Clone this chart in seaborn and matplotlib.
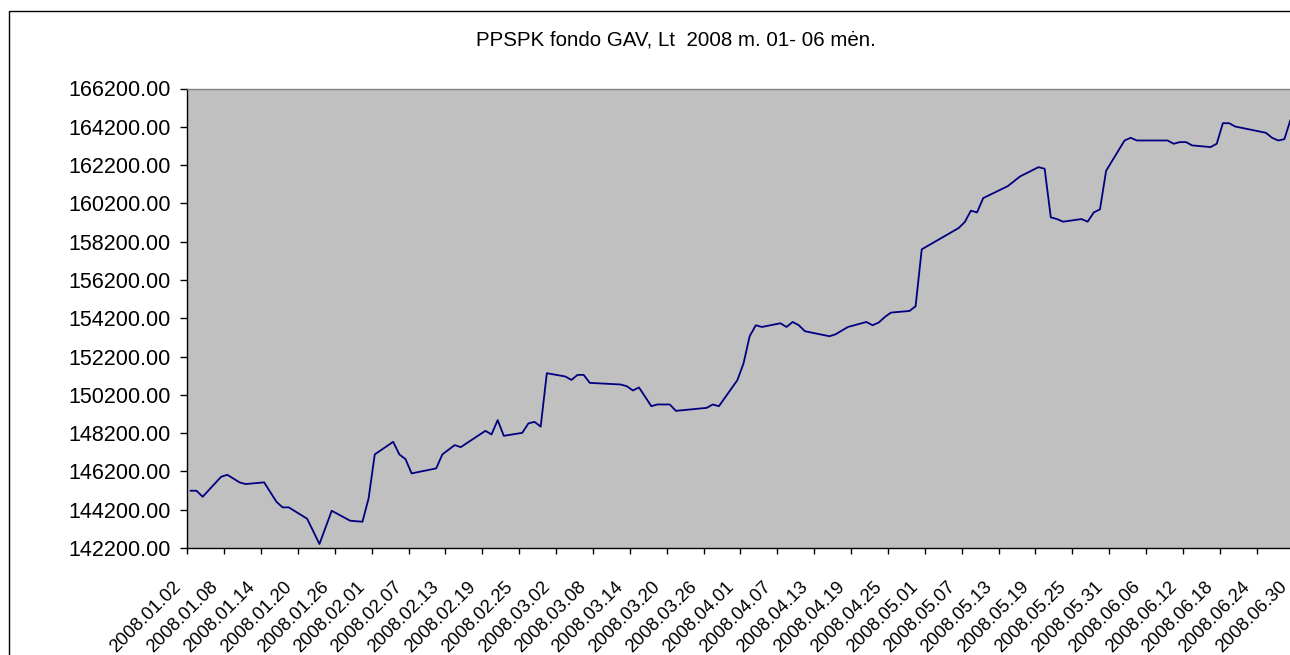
#!/usr/bin/env python3
import numpy as np
import pandas as pd
import seaborn as sns
from matplotlib import pyplot as plt
from matplotlib.patches import Rectangle
from matplotlib.transforms import ScaledTranslation

TITLE = "PPSPK fondo GAV, Lt  2008 m. 01- 06 m\u0117n."

# values (Lt)
dates = [
    "2008-01-02", "2008-01-03", "2008-01-04", "2008-01-07", "2008-01-08",
    "2008-01-10", "2008-01-11", "2008-01-14", "2008-01-16", "2008-01-17",
    "2008-01-18", "2008-01-21", "2008-01-23", "2008-01-25", "2008-01-28",
    "2008-01-30", "2008-01-31", "2008-02-01", "2008-02-04", "2008-02-05",
    "2008-02-06", "2008-02-07", "2008-02-11", "2008-02-12", "2008-02-14",
    "2008-02-15", "2008-02-19", "2008-02-20", "2008-02-21", "2008-02-22",
    "2008-02-25", "2008-02-26", "2008-02-27", "2008-02-28", "2008-02-29",
    "2008-03-03", "2008-03-04", "2008-03-05", "2008-03-06", "2008-03-07",
    "2008-03-12", "2008-03-13", "2008-03-14", "2008-03-15", "2008-03-17",
    "2008-03-18", "2008-03-20", "2008-03-21", "2008-03-26", "2008-03-27",
    "2008-03-28", "2008-03-31", "2008-04-01", "2008-04-02", "2008-04-03",
    "2008-04-04", "2008-04-07", "2008-04-08", "2008-04-09", "2008-04-10",
    "2008-04-11", "2008-04-15", "2008-04-16", "2008-04-18", "2008-04-21",
    "2008-04-22", "2008-04-23", "2008-04-24", "2008-04-25", "2008-04-28",
    "2008-04-29", "2008-04-30", "2008-05-06", "2008-05-07", "2008-05-08",
    "2008-05-09", "2008-05-10", "2008-05-14", "2008-05-16", "2008-05-19",
    "2008-05-20", "2008-05-21", "2008-05-22", "2008-05-23", "2008-05-26",
    "2008-05-27", "2008-05-28", "2008-05-29", "2008-05-30", "2008-06-02",
    "2008-06-03", "2008-06-04", "2008-06-09", "2008-06-10", "2008-06-11",
    "2008-06-12", "2008-06-13", "2008-06-16", "2008-06-17", "2008-06-18",
    "2008-06-19", "2008-06-20", "2008-06-25", "2008-06-26", "2008-06-27",
    "2008-06-28", "2008-06-29",
]
gav = [
    145190, 145190, 144876, 145920, 146024,
    145628, 145539, 145628, 144615, 144323,
    144323, 143729, 142409, 144146, 143624,
    143572, 144793, 147088, 147746, 147088,
    146843, 146097, 146358, 147088, 147574,
    147469, 148320, 148132, 148878, 148059,
    148215, 148706, 148789, 148539, 151330,
    151158, 150980, 151241, 151241, 150824,
    150740, 150651, 150427, 150584, 149608,
    149697, 149697, 149363, 149519, 149697,
    149608, 150965, 151836, 153260, 153834,
    153745, 153938, 153745, 154006, 153834,
    153521, 153260, 153365, 153745, 154006,
    153834, 153975, 154267, 154496, 154580,
    154825, 157799, 158910, 159223, 159818,
    159729, 160475, 161101, 161607, 162092,
    162009, 159469, 159380, 159244, 159380,
    159244, 159729, 159886, 161900, 163485,
    163626, 163485, 163485, 163313, 163400,
    163400, 163228, 163139, 163316, 164388,
    164388, 164215, 163887, 163626, 163485,
    163553, 164560,
]

axis_start = "2008-01-02"
axis_end = "2008-06-30"
y_ticks = np.arange(142200, 166201, 2000)


def main():
    sns.set_style("white")
    plt.rcParams["font.family"] = ["Liberation Sans", "DejaVu Sans"]
    plt.rcParams["text.color"] = "black"
    plt.rcParams["xtick.color"] = "black"
    plt.rcParams["ytick.color"] = "black"

    df = pd.DataFrame({"date": pd.to_datetime(dates), "gav": gav})

    fig = plt.figure(figsize=(12.9, 6.55), dpi=100)
    fig.patch.set_facecolor("white")
    ax = fig.add_axes([187.3 / 1290, 107 / 655, 1112.4 / 1290, 459.5 / 655])
    ax.set_facecolor("#C0C0C0")

    sns.lineplot(data=df, x="date", y="gav", color="#000080", lw=1.3, ax=ax)

    half = pd.Timedelta(hours=12)
    label_days = pd.date_range(axis_start, axis_end, freq="6D")
    ax.set_xlim(pd.Timestamp(axis_start) - half, pd.Timestamp(axis_end) + half)
    ax.set_xticks(label_days)
    ax.set_xticklabels(label_days.strftime("%Y.%m.%d"))
    ax.set_xticks(label_days - half, minor=True)

    ax.set_ylim(y_ticks[0], y_ticks[-1])
    ax.set_yticks(y_ticks)
    ax.set_yticklabels([f"{v:.2f}" for v in y_ticks])
    ax.set_xlabel("")
    ax.set_ylabel("")

    ax.tick_params(axis="x", which="major", length=0, pad=22, labelsize=13.3,
                   labelcolor="black")
    ax.tick_params(axis="x", which="minor", length=4.3, width=1, color="black",
                   direction="out", bottom=True)
    ax.tick_params(axis="y", which="major", length=5, width=1, color="black",
                   direction="out", left=True, pad=7, labelsize=15.5,
                   labelcolor="black")

    shift = ScaledTranslation(-18 / 100, 0, fig.dpi_scale_trans)
    for lab in ax.get_xticklabels():
        lab.set_rotation(45)
        lab.set_ha("right")
        lab.set_va("top")
        lab.set_rotation_mode("anchor")
        lab.set_transform(lab.get_transform() + shift)

    for side in ("left", "bottom"):
        ax.spines[side].set_color("black")
        ax.spines[side].set_linewidth(1)
    ax.spines["top"].set_color("#808080")
    ax.spines["top"].set_linewidth(1)
    ax.spines["right"].set_visible(False)

    fig.text(676 / 1290, 1 - 40 / 655, TITLE, ha="center", va="center",
             fontsize=14.8, color="black")

    # chart-area border, runs off the right and bottom of the image
    fig.add_artist(Rectangle((8.5 / 1290, -0.1), 2, 1.1 - 10.5 / 655,
                             transform=fig.transFigure, fill=False,
                             ec="black", lw=1))

    fig.savefig("out.png", dpi=100)
    plt.close(fig)


if __name__ == "__main__":
    main()
